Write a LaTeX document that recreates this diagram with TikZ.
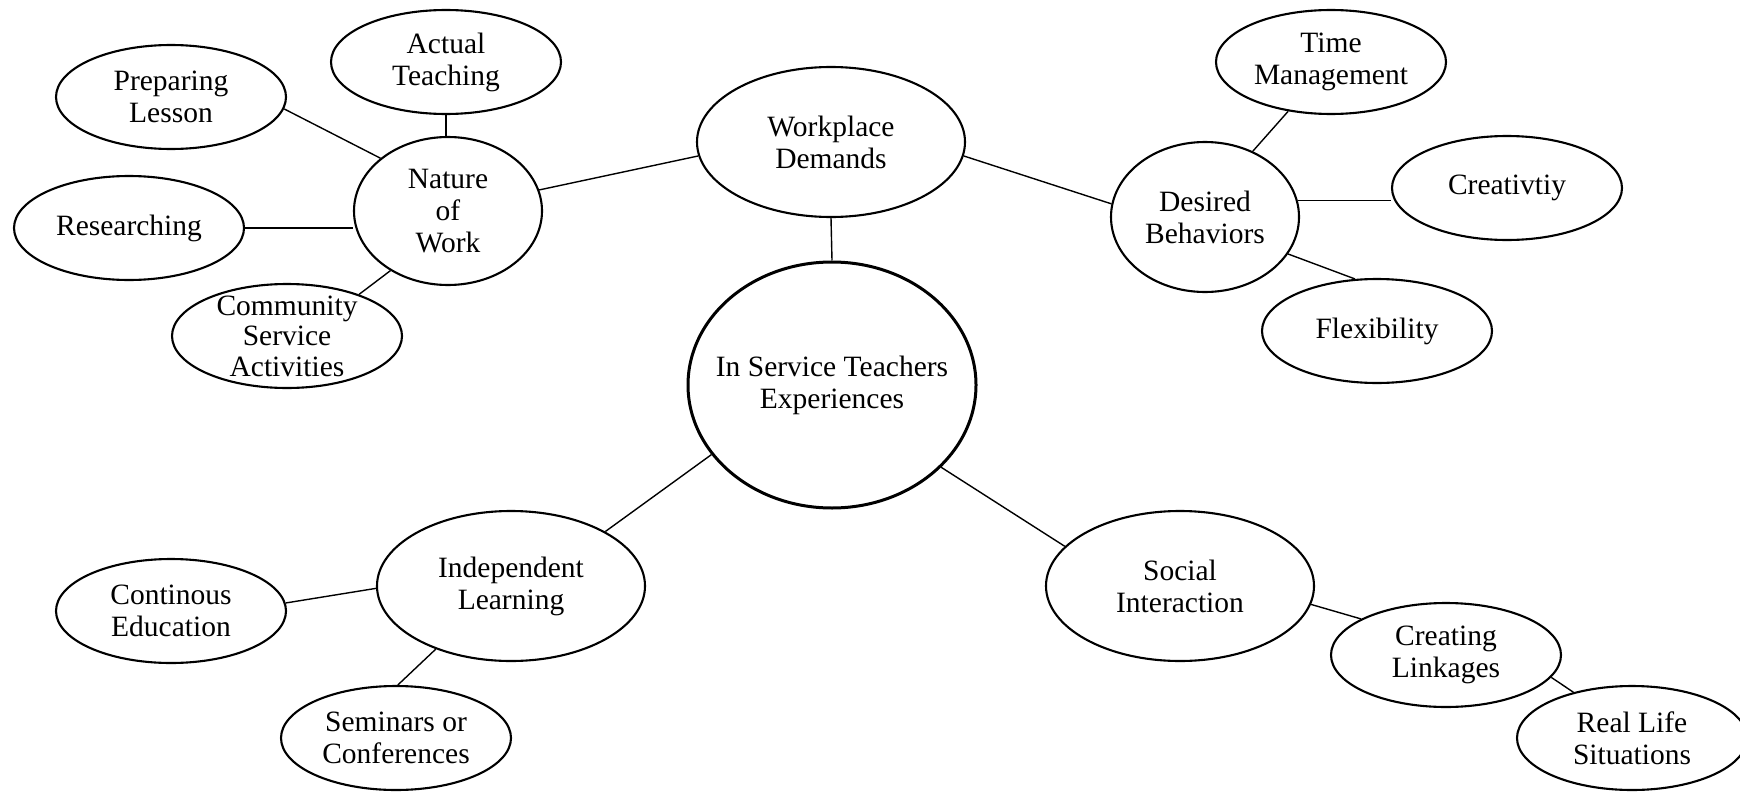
\documentclass[tikz,border=0pt]{standalone}
\usepackage{fontspec}
\setmainfont{Liberation Serif}
\usetikzlibrary{shapes.geometric}
\begin{document}
\begin{tikzpicture}[x=1pt,y=-1pt,
  oval/.style={draw, ellipse, line width=2.1pt, inner sep=0pt, minimum width=230pt, minimum height=104pt},
  bigoval/.style={oval, minimum width=268pt, minimum height=150pt},
  ring/.style={oval, minimum width=188pt, minimum height=148pt},
  centre/.style={oval, line width=3pt, minimum width=288pt, minimum height=246pt},
  link/.style={line width=1.4pt},
  every label/.style={align=center, font=\fontsize{29.5}{32}\selectfont, inner sep=0pt},
]
\useasboundingbox (0,0) rectangle (1740,792);

% nodes
\node[oval, label={center:Preparing\\Lesson}] (pl) at (171,97) {};
\node[oval, label={center:Actual\\Teaching}] (at) at (446,62) {};
\node[ring, label={center:Nature\\of\\Work}] (nw) at (448,211) {};
\node[oval, label={center:Researching}] (rs) at (129,228) {};
\node[oval, label={[font=\fontsize{29.5}{30.5}\selectfont]center:Community\\Service\\Activities}] (cs) at (287,336) {};
\node[bigoval, label={center:Workplace\\Demands}] (wd) at (831,142) {};
\node[centre, label={center:In Service Teachers\\Experiences}] (ce) at (832,385) {};
\node[oval, label={center:Time\\Management}] (tm) at (1331,62) {};
\node[ring, minimum height=150pt, label={center:Desired\\Behaviors}] (db) at (1205,217) {};
\node[oval, label={center:Creativtiy}] (cr) at (1507,188) {};
\node[oval, label={center:Flexibility}] (fx) at (1377,331) {};
\node[bigoval, label={center:Independent\\Learning}] (il) at (511,586) {};
\node[oval, label={center:Continous\\Education}] (ed) at (171,611) {};
\node[oval, label={center:Seminars or\\Conferences}] (sc) at (396,738) {};
\node[bigoval, label={center:Social\\Interaction}] (si) at (1180,586) {};
\node[oval, label={center:Creating\\Linkages}] (cl) at (1446,655) {};
\node[oval, label={center:Real Life\\Situations}] (rl) at (1632,738) {};

% connectors
\draw[link] (pl.-6) -- (nw.142);
\draw[link] (at.south) -- (at.south |- nw.north);
\draw[link] (rs.east) -- (rs.east -| nw.west);
\draw[link] (cs.30) -- (nw.226);
\draw[link] (nw.13) -- (wd.186);
\draw[link] (wd.-6) -- (db.172);
\draw[link] (wd.south) -- (ce.north);
\draw[link] (tm.229) -- (db.54);
\draw[link] (db.10) -- (db.10 -| cr.west);
\draw[link] (db.-24) -- (fx.113);
\draw[link] (ce.210) -- (il.30);
\draw[link] (ce.-37) -- (si.161);
\draw[link] (ed.4) -- (il.181);
\draw[link] (il.220) -- (sc.88);
\draw[link] (si.-8) -- (cl.157);
\draw[link] (cl.-12) -- (rl.142);
\end{tikzpicture}
\end{document}
